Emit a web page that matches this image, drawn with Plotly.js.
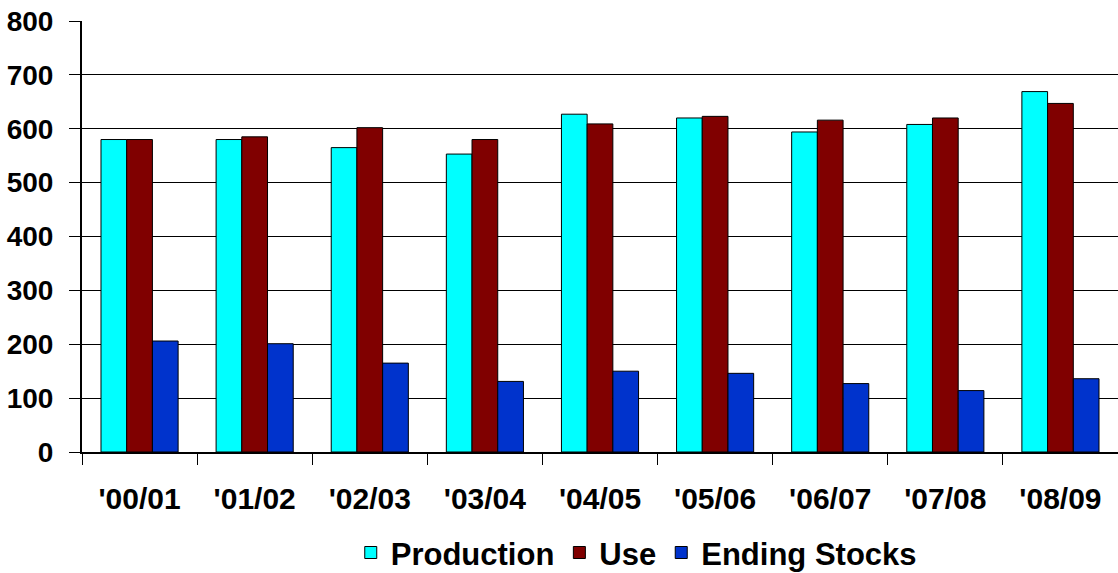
<!DOCTYPE html>
<html>
<head>
<meta charset="utf-8">
<script src="https://cdn.plot.ly/plotly-3.0.1.min.js"></script>
<style>
  html, body { margin: 0; padding: 0; background: #ffffff; }
  #chart { width: 1118px; height: 573px; }
</style>
</head>
<body>
<div id="chart"></div>
<script>
// Marketing years
const seasons = ["'00/01", "'01/02", "'02/03", "'03/04", "'04/05", "'05/06", "'06/07", "'07/08", "'08/09"];

// Series values
const production   = [580, 580, 565, 553, 627, 620, 594, 608, 669];
const use          = [580, 585, 602, 580, 609, 623, 616, 620, 647];
const endingStocks = [206, 201, 165, 131, 150, 146, 127, 114, 136];

// Y axis ticks
const yTicks = [0, 100, 200, 300, 400, 500, 600, 700, 800];

const FONT = "Arial, 'Liberation Sans', sans-serif";

function series(name, values, color) {
  return {
    type: "bar",
    name: name,
    x: seasons,
    y: values,
    marker: { color: color, line: { color: "#000000", width: 1 } },
    hoverinfo: "x+y+name"
  };
}

const data = [
  series("Production", production, "#00FFFF"),
  series("Use", use, "#800000"),
  series("Ending Stocks", endingStocks, "#0033CC")
];

const layout = {
  width: 1118,
  height: 573,
  margin: { l: 82, r: 0, t: 21, b: 121, autoexpand: false },
  paper_bgcolor: "#ffffff",
  plot_bgcolor: "#ffffff",
  font: { family: FONT, color: "#000000", weight: "bold" },
  barmode: "group",
  bargap: 0.33,
  bargroupgap: 0,
  showlegend: true,
  legend: {
    orientation: "h",
    x: 0.535,
    xanchor: "center",
    y: -0.234,
    yanchor: "middle",
    font: { family: FONT, size: 31, color: "#000000", weight: "bold" },
    traceorder: "normal",
    itemwidth: 30
  },
  xaxis: {
    type: "category",
    tickson: "boundaries",
    ticks: "outside",
    ticklen: 11,
    tickwidth: 1,
    tickcolor: "#000000",
    showline: true,
    linecolor: "#000000",
    linewidth: 2,
    showgrid: false,
    ticklabelstandoff: 19,
    tickfont: { family: FONT, size: 30, color: "#000000", weight: "bold" },
    fixedrange: true
  },
  yaxis: {
    range: [0, 800],
    tickvals: yTicks,
    ticktext: yTicks.map(String),
    ticks: "outside",
    ticklen: 11,
    tickwidth: 1,
    tickcolor: "#000000",
    showline: true,
    linecolor: "#000000",
    linewidth: 2,
    showgrid: true,
    gridcolor: "#000000",
    gridwidth: 1,
    zeroline: false,
    ticklabelstandoff: 10,
    tickfont: { family: FONT, size: 28, color: "#000000", weight: "bold" },
    fixedrange: true
  }
};

Plotly.newPlot("chart", data, layout, { displayModeBar: false, staticPlot: true });
</script>
</body>
</html>
